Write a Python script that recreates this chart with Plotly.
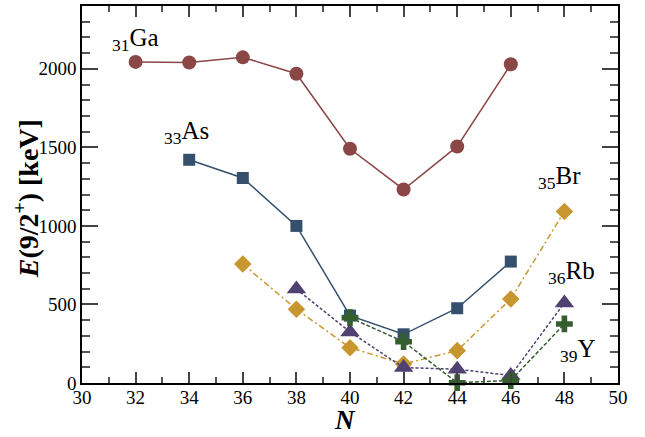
import plotly.graph_objects as go

ga_n = [32, 34, 36, 38, 40, 42, 44, 46]
ga_e = [2044, 2040, 2073, 1969, 1491, 1232, 1506, 2029]
as_n = [34, 36, 38, 40, 42, 44, 46]
as_e = [1421, 1305, 1000, 429, 310, 476, 773]
br_n = [36, 38, 40, 42, 44, 46, 48]
br_e = [757, 470, 225, 121, 206, 535, 1092]
rb_n = [38, 40, 42, 44, 46, 48]
rb_e = [598, 325, 98, 88, 48, 510]
y_n = [40, 42, 44, 46, 48]
y_e = [416, 263, 2, 16, 376]

FONT = "Liberation Serif, Times New Roman, DejaVu Serif, serif"

series = [
    (ga_n, ga_e, "#8b4646", "circle", 14, "solid"),
    (as_n, as_e, "#34506d", "square", 12, "solid"),
    (br_n, br_e, "#c8962e", "diamond", 13.5, "6px,3px,2px,3px"),
    (rb_n, rb_e, "#4f4270", "triangle-up", 17, "3px,2px"),
    (y_n, y_e, "#355e2e", "cross", 14, "4px,2px"),
]

fig = go.Figure()
for xs, ys, col, sym, sz, dash in series:
    fig.add_trace(go.Scatter(
        x=xs, y=ys, mode="lines+markers",
        line=dict(color=col, width=1.5, dash=dash),
        marker=dict(symbol=sym, size=sz, color=col, line=dict(width=0)),
        showlegend=False, cliponaxis=False,
    ))

labels = [
    (32.0, 2186, "<sub>31</sub>Ga"),
    (33.9, 1593, "<sub>33</sub>As"),
    (47.8, 1306, "<sub>35</sub>Br"),
    (48.25, 701, "<sub>36</sub>Rb"),
    (48.5, 204, "<sub>39</sub>Y"),
]
for x, y, t in labels:
    fig.add_annotation(x=x, y=y, text=t, showarrow=False,
                       font=dict(family=FONT, size=25, color="black"))

# axis titles
fig.add_annotation(xref="paper", yref="paper", x=-0.104, y=0.488,
                   text="<b><i>E</i>(9/2<sup>+</sup>) [keV]</b>", textangle=-90,
                   showarrow=False, xanchor="center", yanchor="middle",
                   font=dict(family=FONT, size=28, color="black"))
fig.add_annotation(xref="paper", yref="paper", x=0.491, y=-0.098,
                   text="<b><i>N</i></b>",
                   showarrow=False, xanchor="center", yanchor="middle",
                   font=dict(family=FONT, size=27, color="black"))

axis_common = dict(
    showline=True, linecolor="black", linewidth=1.5, mirror="allticks",
    ticks="inside", tickcolor="#444444", tickwidth=1.5,
    showgrid=False, zeroline=False, automargin=False,
    tickfont=dict(family=FONT, size=19, color="black"),
)

fig.update_xaxes(range=[30, 50], dtick=2, ticklen=11, ticklabelstandoff=-4,
                 minor=dict(dtick=1, ticklen=6, ticks="inside", tickcolor="#555555", tickwidth=1.5),
                 **axis_common)
fig.update_yaxes(range=[0, 2400], dtick=500, ticklen=16,
                 minor=dict(dtick=100, ticklen=8, ticks="inside", tickcolor="#555555", tickwidth=1.5),
                 **axis_common)

fig.update_layout(
    width=645, height=437,
    margin=dict(l=82, r=27, t=6, b=54),
    paper_bgcolor="white", plot_bgcolor="white",
    font=dict(family=FONT),
)

fig.write_html("out.html", config={"displayModeBar": False},
               post_script="document.body.style.margin='0';")
